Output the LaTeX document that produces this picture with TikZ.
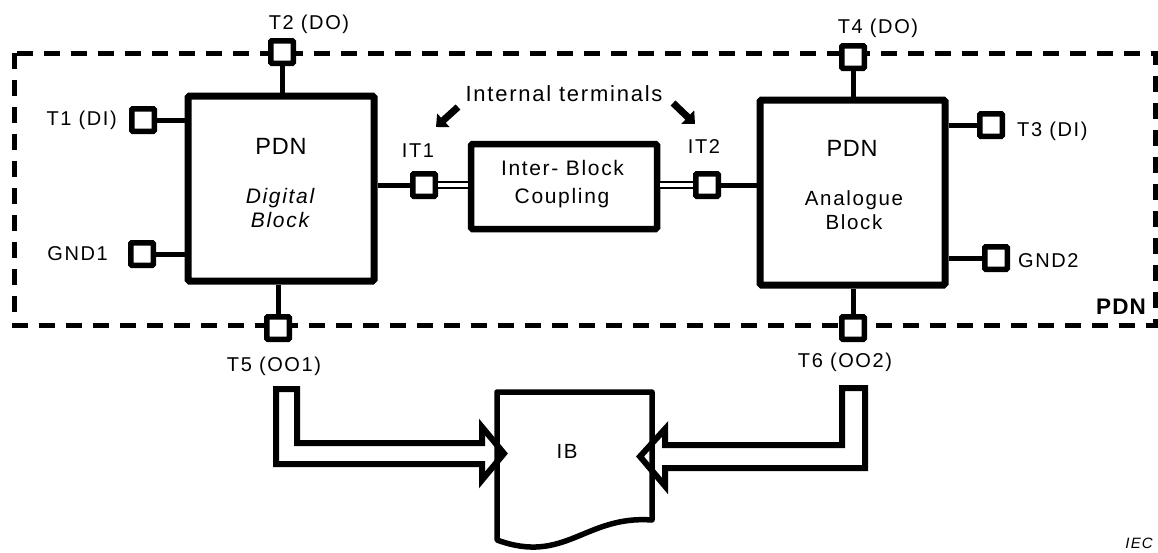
\documentclass[tikz,border=0pt]{standalone}
\usepackage{fontspec}
\setmainfont{Liberation Sans}[LetterSpace=8]
\usetikzlibrary{arrows.meta}
\begin{document}
\begin{tikzpicture}[x=1pt,y=-1pt,
  blk/.style={draw, line width=7pt, rounded corners=1.5pt, minimum width=186pt,
    minimum height=185pt, inner sep=0pt, fill=white},
  coupbox/.style={draw, line width=6.5pt, rounded corners=1.5pt, minimum width=186pt,
    minimum height=85pt, inner sep=0pt, fill=white},
  term/.style={draw, line width=5.5pt, rounded corners=1pt, minimum size=22.5pt,
    inner sep=0pt, fill=white},
  wire/.style={line width=5pt},
  link/.style={double=white, double distance=4.5pt, line width=1.6pt},
  lbl/.style={anchor=base, inner sep=0pt, font=\fontsize{20}{24}\selectfont},
  inlbl/.style={anchor=base, inner sep=0pt, font=\fontsize{21}{25}\selectfont},
  pdnlbl/.style={anchor=base, inner sep=0pt,
    font=\addfontfeature{LetterSpace=3}\fontsize{23.5}{28}\selectfont},
  fat/.style={line width=7pt, -{Triangle[length=10pt,width=18pt]}},
  hollow/.style={line width=6pt, line join=miter},
]
\useasboundingbox (0,0) rectangle (1158,552);

% PDN boundary
\draw[line width=5pt, dash pattern=on 16pt off 11pt] (14,53) rectangle (1155.5,325);
\node[anchor=base, inner sep=0pt,
  font=\bfseries\addfontfeature{LetterSpace=5}\fontsize{22.5}{27}\selectfont] (pdn) at (1121,314) {PDN};

% blocks
\node[blk] (dig) at (281,188.5) {};
\node[blk, minimum width=185pt] (ana) at (852.5,192.5) {};
\node[coupbox] (coup) at (564,186.5) {};

% terminals
\node[term] (t1) at (143,120) {};
\node[term] (gnd1) at (142,254) {};
\node[term] (t2) at (282,52) {};
\node[term] (t5) at (278,328) {};
\node[term] (t4) at (853,57) {};
\node[term] (t3) at (991,125) {};
\node[term] (gnd2) at (996,258) {};
\node[term] (t6) at (853,328) {};
\node[term] (it1) at (424,185) {};
\node[term] (it2) at (707,185) {};

% terminal wires
\draw[wire] (t1.east) -- (t1.east -| dig.west);
\draw[wire] (gnd1.east) -- (gnd1.east -| dig.west);
\draw[wire] (t2.south) -- (t2.south |- dig.north);
\draw[wire] (t5.north) -- (t5.north |- dig.south);
\draw[wire] (it1.west) -- (it1.west -| dig.east);
\draw[wire] (it2.east) -- (it2.east -| ana.west);
\draw[wire] (t4.south) -- (t4.south |- ana.north);
\draw[wire] (t6.north) -- (t6.north |- ana.south);
\draw[wire] (t3.west) -- (t3.west -| ana.east);
\draw[wire] (gnd2.west) -- (gnd2.west -| ana.east);
\draw[link] (it1.east) -- (it1.east -| coup.west);
\draw[link] (it2.west -| coup.east) -- (it2.west);

% labels
\node[lbl] (lt2) at (309,29.5) {T2 (DO)};
\node[lbl, anchor=base east] (lt1) at (117,125.7) {T1 (DI)};
\node[lbl, anchor=base east] (lgnd1) at (108,260.7) {GND1};
\node[lbl] (lt5) at (274,371.7) {T5 (OO1)};
\node[lbl] (lt4) at (878,33.3) {T4 (DO)};
\node[lbl, anchor=base west] (lt3) at (1017,136) {T3 (DI)};
\node[lbl, anchor=base west] (lgnd2) at (1018,267) {GND2};
\node[lbl] (lt6) at (845,367) {T6 (OO2)};
\node[lbl] (lit1) at (418,157) {IT1};
\node[lbl] (lit2) at (704,153) {IT2};
\node[anchor=base, inner sep=0pt, font=\fontsize{22}{26}\selectfont] (intl) at (564,101) {Internal terminals};

\node[pdnlbl] (dpdn) at (281,154) {PDN};
\node[inlbl, font=\itshape\fontsize{21}{25}\selectfont] (dname1) at (280,203) {Digital};
\node[inlbl, font=\itshape\fontsize{21}{25}\selectfont] (dname2) at (280,227) {Block};
\node[pdnlbl] (apdn) at (852,156) {PDN};
\node[inlbl, font=\fontsize{20.5}{25}\selectfont] (aname1) at (854,205) {Analogue};
\node[inlbl, font=\fontsize{20.5}{25}\selectfont] (aname2) at (854,229) {Block};
\node[inlbl] (cname1) at (562.5,175) {Inter- Block};
\node[inlbl] (cname2) at (562,203) {Coupling};

% pointers to the internal terminals
\coordinate (p1s) at (458,107);
\coordinate (p1e) at (436,127);
\coordinate (p2s) at (673,103);
\coordinate (p2e) at (695,124);
\draw[fat] (p1s) -- (p1e);
\draw[fat] (p2s) -- (p2e);

% hollow arrows from T5 and T6 into IB
\draw[hollow] (276,389) -- (297,389) -- (297,443) -- (482,443) -- (482,427)
  -- (504,453.5) -- (482,480) -- (482,464) -- (276,464) -- cycle;
\draw[hollow] (865,388) -- (842,388) -- (842,445) -- (665,445) -- (665,429)
  -- (640,456.5) -- (665,486) -- (665,468) -- (865,468) -- cycle;

% IB document
\draw[line width=5.5pt, line join=round] (497,392) -- (652,392) -- (652,520)
  .. controls (585,515) and (565,565) .. (497,540) -- cycle;
\node[anchor=base, inner sep=0pt, font=\fontsize{20.5}{24}\selectfont] (ib) at (567,458) {IB};

\node[anchor=base east, inner sep=0pt, font=\itshape\fontsize{15}{18}\selectfont] (iec) at (1153,548) {IEC};
\end{tikzpicture}
\end{document}
